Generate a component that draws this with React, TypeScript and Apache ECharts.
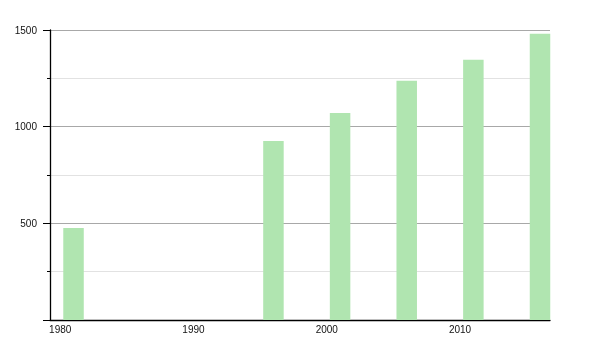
import React, { useEffect, useRef } from "react";
import * as echarts from "echarts";

const years = [1981, 1996, 2001, 2006, 2011, 2016];
const population = [476, 926, 1071, 1237, 1346, 1481];
const xTickLabels = [1980, 1990, 2000, 2010];

export default function App() {
  const ref = useRef<HTMLDivElement>(null);
  useEffect(() => {
    const chart = echarts.init(ref.current!, null, { renderer: "svg" });
    chart.setOption({
      animation: false,
      grid: { left: 50, right: 50, top: 30, bottom: 30 },
      xAxis: {
        type: "value",
        min: 1979.235,
        max: 2016.75,
        axisLine: { show: true, lineStyle: { color: "#000", width: 1.3 } },
        axisTick: { show: false },
        splitLine: { show: false },
        axisLabel: {
          customValues: xTickLabels,
          color: "#111",
          fontSize: 10,
          fontFamily: "Liberation Sans, Arial, sans-serif",
          margin: 4,
          formatter: (v: number) => String(v),
        },
      },
      yAxis: {
        type: "value",
        min: 0,
        max: 1500,
        interval: 500,
        axisLine: { show: true, lineStyle: { color: "#000", width: 1.3 } },
        axisTick: { show: true, length: 7, lineStyle: { color: "#000" } },
        minorTick: { show: true, splitNumber: 2, length: 3, lineStyle: { color: "#000" } },
        splitLine: { show: true, lineStyle: { color: "#a8a8a8", width: 1 } },
        minorSplitLine: { show: true, lineStyle: { color: "#e2e2e2", width: 1 } },
        axisLabel: {
          color: "#111",
          fontSize: 10,
          fontFamily: "Liberation Sans, Arial, sans-serif",
          margin: 13,
          formatter: (v: number) => (v === 0 ? "" : String(v)),
        },
      },
      series: [
        {
          type: "bar",
          data: years.map((y, i) => [y, population[i]]),
          barWidth: 20.5,
          itemStyle: { color: "#b0e5b0" },
        },
      ],
    });
    return () => chart.dispose();
  }, []);
  return (
    <div
      ref={ref}
      style={{ position: "fixed", left: 0, top: 0, width: 600, height: 350 }}
    />
  );
}
